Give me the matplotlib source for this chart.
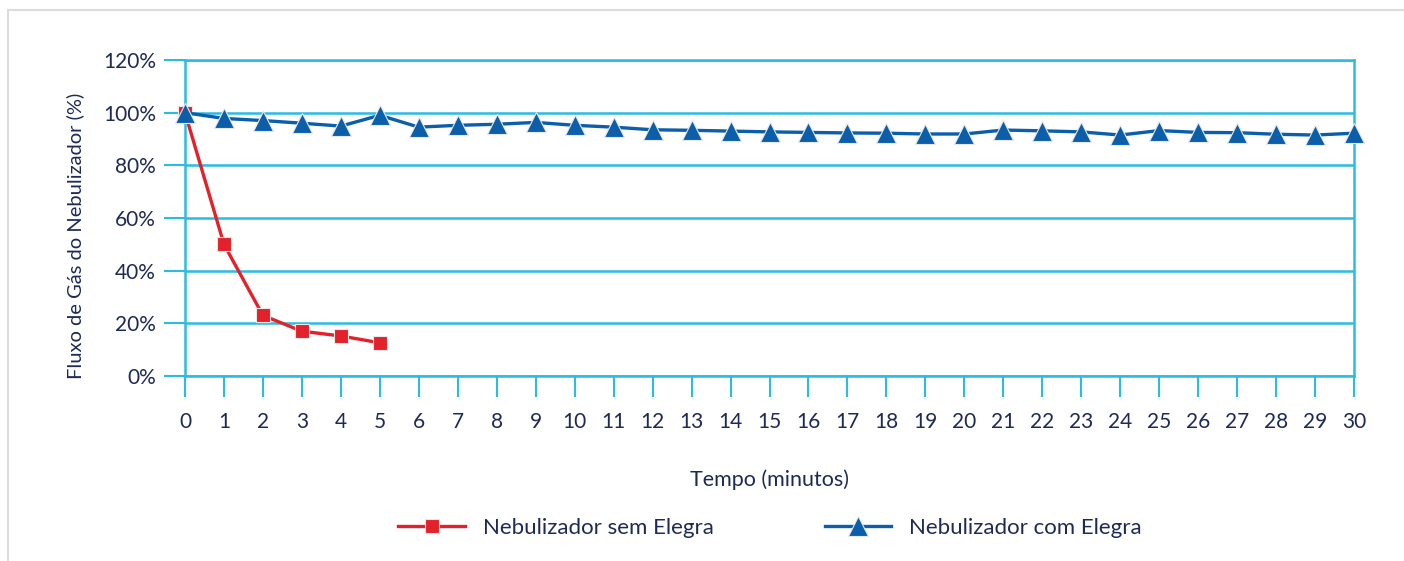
import matplotlib
matplotlib.use("Agg")
from matplotlib import pyplot as plt
from matplotlib.patches import Rectangle
import numpy as np

plt.rcParams['font.family'] = ['Lato', 'DejaVu Sans']

# data
minutes = list(range(0, 31))
sem_minutes = [0, 1, 2, 3, 4, 5]
sem_elegra = [100, 50, 23, 17, 15.2, 12.6]
com_elegra = [100, 97.8, 97.0, 96.0, 94.9, 99.0, 94.5, 95.2, 95.6, 96.3,
              95.2, 94.5, 93.5, 93.3, 93.0, 92.7, 92.5, 92.3, 92.2, 91.9,
              91.9, 93.4, 93.1, 92.7, 91.5, 93.2, 92.5, 92.4, 91.8, 91.5, 92.2]
y_ticks = [0, 20, 40, 60, 80, 100, 120]
y_labels = ["0%", "20%", "40%", "60%", "80%", "100%", "120%"]

grid_c = "#2bbbe3"
text_c = "#1e2a56"
red = "#e3212b"
blue = "#0b5ea9"

fig = plt.figure(figsize=(14.04, 5.61), dpi=100)
fig.patches.append(Rectangle((8/1404, -0.1), 1.2, 1.1 - 10/561,
                             transform=fig.transFigure, fill=False,
                             edgecolor="#dcdcdc", linewidth=1.5))
ax = fig.add_axes([185/1404, 1 - 376/561, (1354-185)/1404, (376-60)/561])

ax.plot(sem_minutes, sem_elegra, color=red, lw=2.4, marker='s', ms=10,
        mec="#e8e8e8", mew=0.8, label="Nebulizador sem Elegra", clip_on=False, zorder=4)
ax.plot(minutes, com_elegra, color=blue, lw=2.4, marker='^', ms=14,
        mec="#e8e8e8", mew=0.8, label="Nebulizador com Elegra", clip_on=False, zorder=5)

ax.set_xlim(0, 30)
ax.set_ylim(0, 120)
ax.set_xticks(minutes)
ax.set_yticks(y_ticks)
ax.set_yticklabels(y_labels)
ax.grid(axis='y', color=grid_c, lw=1.8)
ax.set_axisbelow(True)
for s in ax.spines.values():
    s.set_color(grid_c)
    s.set_linewidth(1.8)
ax.tick_params(axis='both', length=15, width=1.5, color=grid_c,
               labelcolor=text_c, labelsize=15, pad=6)
ax.tick_params(axis='x', pad=11)

ax.set_xlabel("Tempo (minutos)", color=text_c, fontsize=15.5, labelpad=27)
ax.set_ylabel("Fluxo de Gás do Nebulizador (%)", color=text_c, fontsize=14.5)
ax.yaxis.set_label_coords(-101/1169, 0.445)

fig.legend(loc='center', bbox_to_anchor=(770/1404, 1 - 528/561), ncol=2,
           frameon=False, fontsize=16, labelcolor=text_c, handlelength=3.0,
           columnspacing=5, handletextpad=0.8)

fig.savefig("out.png", dpi=100)
